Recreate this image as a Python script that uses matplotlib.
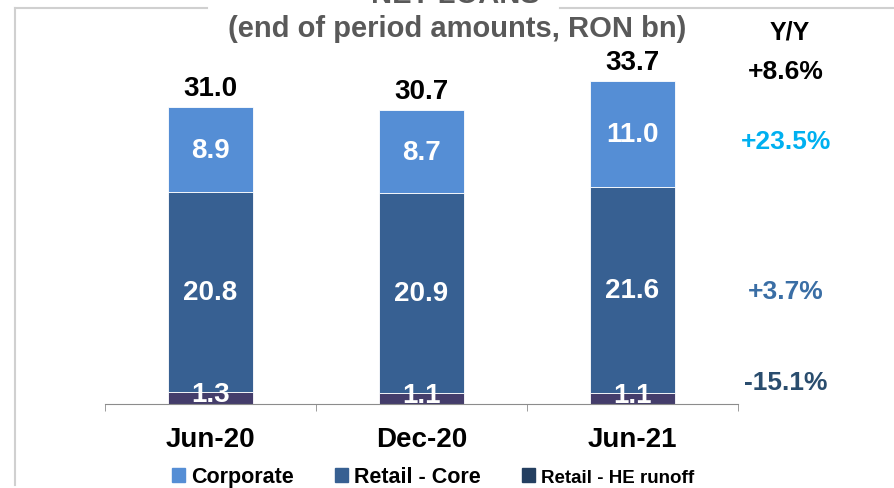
import numpy as np
import matplotlib.pyplot as plt
from matplotlib.patches import Patch
from matplotlib.lines import Line2D

plt.rcParams['font.family'] = ['Liberation Sans', 'DejaVu Sans']
plt.rcParams['font.weight'] = 'bold'

# dados
periodos = ['Jun-20', 'Dec-20', 'Jun-21']
he_runoff = [1.3, 1.1, 1.1]
retail_core = [20.8, 20.9, 21.6]
corporate = [8.9, 8.7, 11.0]
totais = [31.0, 30.7, 33.7]
yoy_rotulos = ['+8.6%', '+23.5%', '+3.7%', '-15.1%']

cor_corp = '#558ED5'
cor_core = '#376092'
cor_he = '#443D6B'
cor_he_leg = '#243F60'
cores_yoy = ['#000000', '#00B0F0', '#3A6EA5', '#2A4D6E']

fig = plt.figure(figsize=(8.95, 4.89), dpi=100)
W, H = 895, 489
ax = fig.add_axes([105 / W, (H - 405) / H, 633 / W, 383 / H])

x = np.arange(len(periodos))
largura = 0.4
he = np.array(he_runoff)
core = np.array(retail_core)
corp = np.array(corporate)

ax.bar(x, he, largura, color=cor_he, edgecolor='white', linewidth=0.6)
ax.bar(x, core, largura, bottom=he, color=cor_core, edgecolor='white', linewidth=0.6)
ax.bar(x, corp, largura, bottom=he + core, color=cor_corp, edgecolor='white', linewidth=0.6)

# rótulos dentro das barras
for i in range(len(x)):
    ax.text(x[i], he[i] / 2 + 0.4, f'{he[i]:.1f}', ha='center', va='center',
            color='white', fontsize=20, clip_on=True)
    ax.text(x[i], he[i] + core[i] / 2, f'{core[i]:.1f}', ha='center', va='center',
            color='white', fontsize=20)
    ax.text(x[i], he[i] + core[i] + corp[i] / 2, f'{corp[i]:.1f}', ha='center',
            va='center', color='white', fontsize=20)
    ax.text(x[i], totais[i] + 1.3, f'{totais[i]:.1f}', ha='center', va='baseline',
            color='black', fontsize=20)

ax.set_xlim(-0.5, 2.5)
ax.set_ylim(0, 40)
ax.set_yticks([])
for lado in ['left', 'right', 'top']:
    ax.spines[lado].set_visible(False)
ax.spines['bottom'].set_color('#8C8C8C')
ax.set_xticks(x)
ax.set_xticklabels(periodos, fontsize=20)
ax.tick_params(axis='x', which='major', length=0, pad=16)
ax.set_xticks([-0.5, 0.5, 1.5, 2.5], minor=True)
ax.tick_params(axis='x', which='minor', length=5, color='#8C8C8C', direction='out')

# titulo (cortado no topo)
fig.text(455 / W, 1 - 3 / H, 'NET LOANS', ha='center', va='baseline',
         fontsize=21, color='#595959')
fig.text(457 / W, 1 - 37 / H, '(end of period amounts, RON bn)', ha='center',
         va='baseline', fontsize=21, color='#595959')

# moldura cinza
fig.add_artist(Line2D([15 / W, 15 / W], [1 - 8.5 / H, 1 - 486 / H], color='#D0D0D0', lw=1.5))
fig.add_artist(Line2D([15 / W, 207 / W], [1 - 8.5 / H, 1 - 8.5 / H], color='#D0D0D0', lw=1.5))
fig.add_artist(Line2D([560 / W, 895 / W], [1 - 8.5 / H, 1 - 8.5 / H], color='#D0D0D0', lw=1.5))

# coluna Y/Y
fig.text(790 / W, 1 - 33 / H, 'Y/Y', ha='center', va='center', fontsize=18, color='black')
pos_yoy = [72, 142, 292, 383]
for rot, py, cor in zip(yoy_rotulos, pos_yoy, cores_yoy):
    fig.text(786 / W, 1 - py / H, rot, ha='center', va='center', fontsize=19, color=cor)

# legenda
handles = [Patch(color=cor_corp, label='Corporate'),
           Patch(color=cor_core, label='Retail - Core'),
           Patch(color=cor_he_leg, label='Retail - HE runoff')]
leg = fig.legend(handles=handles, loc='center', bbox_to_anchor=(433 / W, 1 - 478 / H),
                 ncol=3, frameon=False, handlelength=0.6, handleheight=0.6,
                 handletextpad=0.3, columnspacing=1.9, fontsize=15.5)
leg.get_texts()[2].set_fontsize(13.5)

fig.savefig('out.png', dpi=100)
